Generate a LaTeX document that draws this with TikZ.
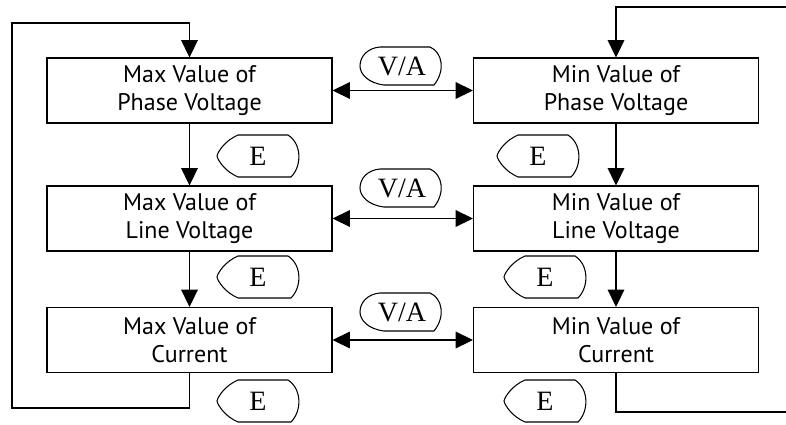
\documentclass[tikz,border=0pt]{standalone}
\usepackage{fontspec}
\setmainfont{Liberation Serif}
\newfontfamily\boxfont{PT Sans}
\usetikzlibrary{positioning, arrows.meta}

% outline of the E key (pointed left, round right)
\newcommand{\eoutline}[1]{%
  \draw[shift={(#1.center)}] (-20,-21) -- (30,-21)
    .. controls (44,-12) and (44,10) .. (33,21) -- (-20,21)
    .. controls (-32,16) and (-40,5) .. (-41,0)
    .. controls (-40,-5) and (-32,-16) .. cycle;}
% outline of the V/A key
\newcommand{\vaoutline}[1]{%
  \draw[shift={(#1.center)}] (-22,-19) -- (28,-19)
    .. controls (40,-14) and (44,4) .. (32,19) -- (-18,19)
    .. controls (-34,17) and (-42,8) .. (-42,0)
    .. controls (-42,-10) and (-34,-18) .. cycle;}

\begin{document}
\begin{tikzpicture}[
  x=0.75pt, y=-0.75pt, line width=0.8pt,
  valbox/.style={draw, fill=white, align=center, inner sep=0pt,
                 minimum width=213.75pt, minimum height=48.75pt,
                 font=\boxfont\fontsize{18}{21}\selectfont},
  keybtn/.style={inner sep=0pt, font=\fontsize{21}{21}\selectfont},
  arrow/.style={-{Triangle[length=13pt, width=12.5pt]}},
  twoway/.style={{Triangle[length=13pt, width=12.5pt]}-{Triangle[length=13pt, width=12.5pt]}},
]
\useasboundingbox (0,0) rectangle (786,425);

\node[valbox] (maxph) at (189.5, 90.5) {Max Value of\\Phase Voltage};
\node[valbox] (maxln) at (189.5, 218.5) {Max Value of\\Line Voltage};
\node[valbox] (maxcur) at (189.5, 340) {Max Value of\\Current};

\node[valbox] (minph) at (616, 90.5) {Min Value of\\Phase Voltage};
\node[valbox] (minln) at (616, 218.5) {Min Value of\\Line Voltage};
\node[valbox] (mincur) at (616, 340) {Min Value of\\Current};

\node[keybtn] (va1) at (402, 66) {V/A};
\node[keybtn] (va2) at (402, 188) {V/A};
\node[keybtn] (va3) at (402, 312) {V/A};
\vaoutline{va1}
\vaoutline{va2}
\vaoutline{va3}

\node[keybtn] (e1) at (258, 156) {E};
\node[keybtn] (e2) at (538, 156) {E};
\node[keybtn] (e3) at (258, 277) {E};
\node[keybtn] (e4) at (545, 277) {E};
\node[keybtn] (e5) at (258, 401) {E};
\node[keybtn] (e6) at (545, 401) {E};
\foreach \k in {e1,e2,e3,e4,e5,e6} {\eoutline{\k}}

\coordinate (lbot) at (12, 408);
\coordinate (ltop) at (12, 23);
\coordinate (rbot) at (786, 412);
\coordinate (rtop) at (786, 7);

\draw[arrow] (maxph) -- (maxln);
\draw[arrow] (maxln) -- (maxcur);
\draw[arrow] (minph) -- (minln);
\draw[arrow] (minln) -- (mincur);
\draw[twoway] (maxph) -- (minph);
\draw[twoway] (maxln) -- (minln);
\draw[twoway] (maxcur) -- (mincur);
\draw[arrow] (maxcur.south) |- (lbot) -- (ltop) -| (maxph.north);
\draw (mincur.south) |- (rbot);
\draw[arrow] (rtop) -| (minph.north);
\end{tikzpicture}
\end{document}
